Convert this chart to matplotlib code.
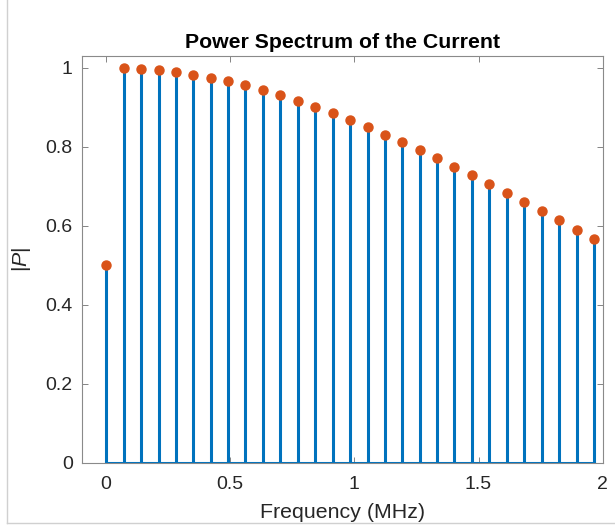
import matplotlib
matplotlib.use("Agg")
import matplotlib.pyplot as plt
from matplotlib.ticker import FuncFormatter
from matplotlib.lines import Line2D

# Datos
frecuencias = [0.000, 0.070, 0.140, 0.211, 0.281, 0.351, 0.421, 0.491, 0.561, 0.632,
               0.702, 0.772, 0.842, 0.912, 0.982, 1.053, 1.123, 1.193, 1.263, 1.333,
               1.403, 1.474, 1.544, 1.614, 1.684, 1.754, 1.824, 1.895, 1.965]
potencia = [0.500, 1.000, 0.997, 0.994, 0.989, 0.982, 0.973, 0.966, 0.955, 0.944,
            0.930, 0.916, 0.901, 0.885, 0.868, 0.849, 0.830, 0.811, 0.791, 0.770,
            0.749, 0.727, 0.705, 0.682, 0.659, 0.637, 0.613, 0.590, 0.567]
xticks = [0, 0.5, 1, 1.5, 2]
yticks = [0, 0.2, 0.4, 0.6, 0.8, 1]

plt.rcParams['font.family'] = ['Liberation Sans', 'DejaVu Sans']
plt.rcParams['mathtext.fontset'] = 'custom'
plt.rcParams['mathtext.rm'] = 'Liberation Sans'
plt.rcParams['mathtext.it'] = 'Liberation Sans:italic'

azul = '#0072BD'
naranja = '#D95319'
gris = '#262626'

fig = plt.figure(figsize=(6.15, 5.25), dpi=100)
ax = fig.add_axes([0.133, 0.119, 0.847, 0.774])

marcas, lineas, base = ax.stem(frecuencias, potencia)
plt.setp(lineas, color=azul, linewidth=2.2)
plt.setp(marcas, color=naranja, markersize=6.5, markeredgecolor=naranja)
plt.setp(base, color=azul, linewidth=2.2)

ax.set_xlim(-0.098, 2.0)
ax.set_ylim(0, 1.029)
ax.set_xticks(xticks)
ax.set_yticks(yticks)
ax.xaxis.set_major_formatter(FuncFormatter(lambda v, p: '%g' % v))
ax.yaxis.set_major_formatter(FuncFormatter(lambda v, p: '%g' % v))
ax.tick_params(direction='in', top=True, right=True, length=4, width=0.6,
               color='#707070', labelsize=14, labelcolor=gris)
ax.tick_params(axis='x', pad=10)
ax.tick_params(axis='y', pad=6.5)
for s in ax.spines.values():
    s.set_color('#8a8a8a')
    s.set_linewidth(0.8)

ax.set_title('Power Spectrum of the Current', fontsize=15.3, fontweight='bold',
             color='black', pad=6)
ax.set_xlabel('Frequency (MHz)', fontsize=15.4, color=gris, labelpad=7)
ax.set_ylabel(r'$|P|$', fontsize=15.4, color=gris, labelpad=9)

# borde de la ventana
fig.add_artist(Line2D([7 / 615, 7 / 615], [2.3 / 525, 1], color='#d0d0d0', lw=1))
fig.add_artist(Line2D([7 / 615, 1], [2.3 / 525, 2.3 / 525], color='#d0d0d0', lw=1))

fig.savefig('out.png', dpi=100)
